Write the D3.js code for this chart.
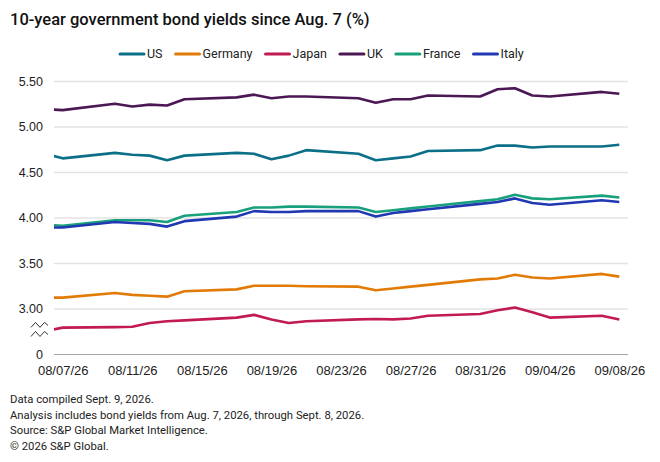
<!DOCTYPE html>
<html>
<head>
<meta charset="utf-8">
<script src="https://cdn.jsdelivr.net/npm/d3@7/dist/d3.min.js"></script>
<style>
  body { margin: 0; background: #fff; }
  svg { display: block; font-family: Roboto, "Noto Sans", sans-serif; }
</style>
</head>
<body>
<div id="chart"></div>
<script>
// trading days (Aug 6 only feeds the clipped first segment)
const dates = [
  "2026-08-06", "2026-08-07", "2026-08-10", "2026-08-11", "2026-08-12", "2026-08-13",
  "2026-08-14", "2026-08-17", "2026-08-18", "2026-08-19", "2026-08-20", "2026-08-21",
  "2026-08-24", "2026-08-25", "2026-08-26", "2026-08-27", "2026-08-28", "2026-08-31",
  "2026-09-01", "2026-09-02", "2026-09-03", "2026-09-04", "2026-09-07", "2026-09-08",
]

const seriesNames = ["US", "Germany", "Japan", "UK", "France", "Italy"]
const seriesColors = ["#0c6f88", "#e27b06", "#c11b51", "#4b1854", "#18a07c", "#2038b2"]

const us = [4.70, 4.65, 4.71, 4.69, 4.68, 4.63, 4.68, 4.71, 4.70, 4.64, 4.68, 4.74,
  4.70, 4.63, 4.65, 4.67, 4.73, 4.74, 4.79, 4.79, 4.77, 4.78, 4.78, 4.80]
const germany = [3.12, 3.12, 3.17, 3.15, 3.14, 3.13, 3.19, 3.21, 3.25, 3.25, 3.25, 3.245,
  3.24, 3.20, 3.22, 3.24, 3.26, 3.32, 3.33, 3.37, 3.34, 3.33, 3.38, 3.35]
const japan = [2.75, 2.79, 2.795, 2.80, 2.84, 2.86, 2.87, 2.90, 2.93, 2.88, 2.84, 2.86,
  2.88, 2.885, 2.88, 2.89, 2.92, 2.94, 2.98, 3.01, 2.96, 2.90, 2.92, 2.88]
const uk = [5.19, 5.18, 5.25, 5.22, 5.24, 5.23, 5.30, 5.32, 5.35, 5.31, 5.33, 5.33,
  5.31, 5.26, 5.30, 5.30, 5.34, 5.33, 5.41, 5.42, 5.34, 5.33, 5.38, 5.36]
const france = [3.92, 3.91, 3.97, 3.97, 3.97, 3.95, 4.02, 4.06, 4.11, 4.11, 4.12, 4.12,
  4.11, 4.06, 4.08, 4.10, 4.12, 4.18, 4.20, 4.25, 4.21, 4.20, 4.24, 4.22]
const italy = [3.89, 3.89, 3.95, 3.94, 3.93, 3.90, 3.96, 4.01, 4.07, 4.06, 4.06, 4.07,
  4.07, 4.01, 4.05, 4.07, 4.09, 4.15, 4.17, 4.21, 4.16, 4.14, 4.19, 4.17]

const xTickDates = ["2026-08-07", "2026-08-11", "2026-08-15", "2026-08-19", "2026-08-23",
  "2026-08-27", "2026-08-31", "2026-09-04", "2026-09-08"]
// axis is broken below 3.00: the lowest gridline is labelled 0
const yTicks = [2.5, 3, 3.5, 4, 4.5, 5, 5.5]
const yTickLabels = ["0", "3.00", "3.50", "4.00", "4.50", "5.00", "5.50"]

const footnotes = [
  "Data compiled Sept. 9, 2026.",
  "Analysis includes bond yields from Aug. 7, 2026, through Sept. 8, 2026.",
  "Source: S&P Global Market Intelligence.",
  "\u00a9 2026 S&P Global.",
]

const width = 660
const height = 462
const margin = { top: 81, right: 32, bottom: 108, left: 54 }

const parse = d3.utcParse("%Y-%m-%d")
const allValues = [us, germany, japan, uk, france, italy]
const series = seriesNames.map((name, i) => ({
  name,
  color: seriesColors[i],
  values: dates.map((d, j) => ({ date: parse(d), value: allValues[i][j] })),
}))

const svg = d3
  .select("#chart")
  .append("svg")
  .attr("width", width)
  .attr("height", height)

// half a day of padding each side of the tick range
const halfDay = 12 * 3600 * 1000
const x = d3
  .scaleUtc()
  .domain([new Date(+parse("2026-08-07") - halfDay), new Date(+parse("2026-09-08") + halfDay)])
  .range([margin.left, width - margin.right])

const y = d3
  .scaleLinear()
  .domain([2.5, 5.5])
  .range([height - margin.bottom, margin.top])

// title
svg
  .append("text")
  .attr("x", 10)
  .attr("y", 25)
  .attr("font-size", "16.5px")
  .attr("font-weight", 500)
  .attr("fill", "#111")
  .text("10-year government bond yields since Aug. 7 (%)")

// legend
const legend = svg.append("g").attr("transform", "translate(120, 54)")
let lx = 0
series.forEach((s) => {
  legend
    .append("line")
    .attr("x1", lx)
    .attr("x2", lx + 24)
    .attr("stroke", s.color)
    .attr("stroke-width", 3)
    .attr("stroke-linecap", "round")
  const t = legend
    .append("text")
    .attr("x", lx + 27)
    .attr("dy", "0.35em")
    .attr("font-size", "12.5px")
    .attr("fill", "#222")
    .text(s.name)
  lx += 27 + t.node().getComputedTextLength() + 13
})

// gridlines + y labels
const yAxis = svg
  .append("g")
  .attr("transform", `translate(${margin.left}, 0)`)
  .call(
    d3
      .axisLeft(y)
      .tickValues(yTicks)
      .tickSize(-(width - margin.left - margin.right))
      .tickPadding(11)
      .tickFormat((d, i) => yTickLabels[i]),
  )
yAxis.select(".domain").remove()
yAxis
  .selectAll(".tick line")
  .attr("stroke", (d) => (d === 2.5 ? "#a6a6a6" : "#e3e3e3"))
  .attr("stroke-width", (d) => (d === 2.5 ? 1.2 : 1.6))
yAxis.selectAll(".tick text").attr("font-size", "12.5px").attr("fill", "#222")

// break marks between 0 and 3.00
const breakY = [y(2.82), y(2.72)]
const zig = d3.line()
breakY.forEach((by) => {
  svg
    .append("path")
    .attr("d", zig([[31, by + 2.5], [35.5, by - 2.5], [40, by + 2.5], [44.5, by - 2.5], [48, by + 0.5]]))
    .attr("fill", "none")
    .attr("stroke", "#333")
    .attr("stroke-width", 1)
})

// x labels
const xAxis = svg
  .append("g")
  .attr("transform", `translate(0, ${height - margin.bottom})`)
  .call(
    d3
      .axisBottom(x)
      .tickValues(xTickDates.map(parse))
      .tickSize(0)
      .tickPadding(12)
      .tickFormat(d3.utcFormat("%m/%d/%y")),
  )
xAxis.select(".domain").remove()
xAxis.selectAll(".tick text").attr("font-size", "13px").attr("fill", "#222")

// lines, clipped to the plot area
svg
  .append("clipPath")
  .attr("id", "plot-clip")
  .append("rect")
  .attr("x", margin.left)
  .attr("y", 0)
  .attr("width", width - margin.left - margin.right)
  .attr("height", height)

const line = d3
  .line()
  .x((d) => x(d.date))
  .y((d) => y(d.value))

svg
  .append("g")
  .attr("clip-path", "url(#plot-clip)")
  .selectAll("path")
  .data(series)
  .join("path")
  .attr("d", (d) => line(d.values))
  .attr("fill", "none")
  .attr("stroke", (d) => d.color)
  .attr("stroke-width", 2.6)
  .attr("stroke-linejoin", "round")

// notes
svg
  .append("g")
  .selectAll("text")
  .data(footnotes)
  .join("text")
  .attr("x", 10)
  .attr("y", (d, i) => 403 + i * 15.5)
  .attr("font-size", "11.3px")
  .attr("fill", "#222")
  .text((d) => d)
</script>
</body>
</html>
